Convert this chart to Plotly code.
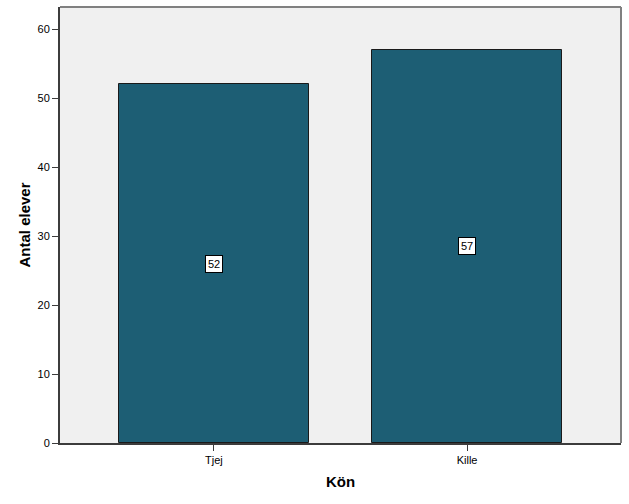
import plotly.graph_objects as go

# data
kon = ["Tjej", "Kille"]
antal = [52, 57]
y_ticks = [0, 10, 20, 30, 40, 50, 60]

fig = go.Figure()

fig.add_trace(go.Bar(
    x=kon, y=antal, width=0.75,
    marker=dict(color="#1d5e74", line=dict(color="#1a1a1a", width=1)),
    hoverinfo="x+y", showlegend=False,
))

# value labels in white boxes, halfway up each bar
for k, v in zip(kon, antal):
    fig.add_annotation(
        x=k, y=v / 2, text=str(v), showarrow=False,
        font=dict(family="Arial, Liberation Sans", size=11, color="#000000"),
        bgcolor="#ffffff", bordercolor="#000000", borderwidth=1, borderpad=2,
    )

# lighter frame on top and right
fig.add_shape(type="line", xref="paper", yref="paper", x0=0, x1=1, y0=1, y1=1,
              line=dict(color="#808080", width=2))
fig.add_shape(type="line", xref="paper", yref="paper", x0=1, x1=1, y0=0, y1=1,
              line=dict(color="#808080", width=2))

fig.update_layout(
    width=629, height=504,
    margin=dict(l=60, r=8, t=7, b=61),
    paper_bgcolor="#ffffff", plot_bgcolor="#f0f0f0",
    font=dict(family="Arial, Liberation Sans", size=11, color="#000000"),
    bargap=0,
)
fig.update_xaxes(
    range=[-0.608, 1.608], showgrid=False, zeroline=False,
    showline=True, linecolor="#3c3c3c", linewidth=2,
    ticks="outside", ticklen=6, tickcolor="#3c3c3c",
    tickfont=dict(color="#000000"),
    title=dict(text="<b>Kön</b>", font=dict(size=15, family="Arial, Liberation Sans"), standoff=11),
)
fig.update_yaxes(
    range=[0, 63.2], tickvals=y_ticks, showgrid=False, zeroline=False,
    showline=True, linecolor="#3c3c3c", linewidth=2,
    ticks="outside", ticklen=6, tickcolor="#3c3c3c",
    tickfont=dict(color="#000000"),
    title=dict(text="<b>Antal elever</b>", font=dict(size=15, family="Arial, Liberation Sans"), standoff=3),
)

# drop the default page margin so the figure sits at the window's corner
fig.write_html("out.html", config={"displayModeBar": False},
               post_script="document.body.style.margin='0';document.body.style.overflow='hidden';")
